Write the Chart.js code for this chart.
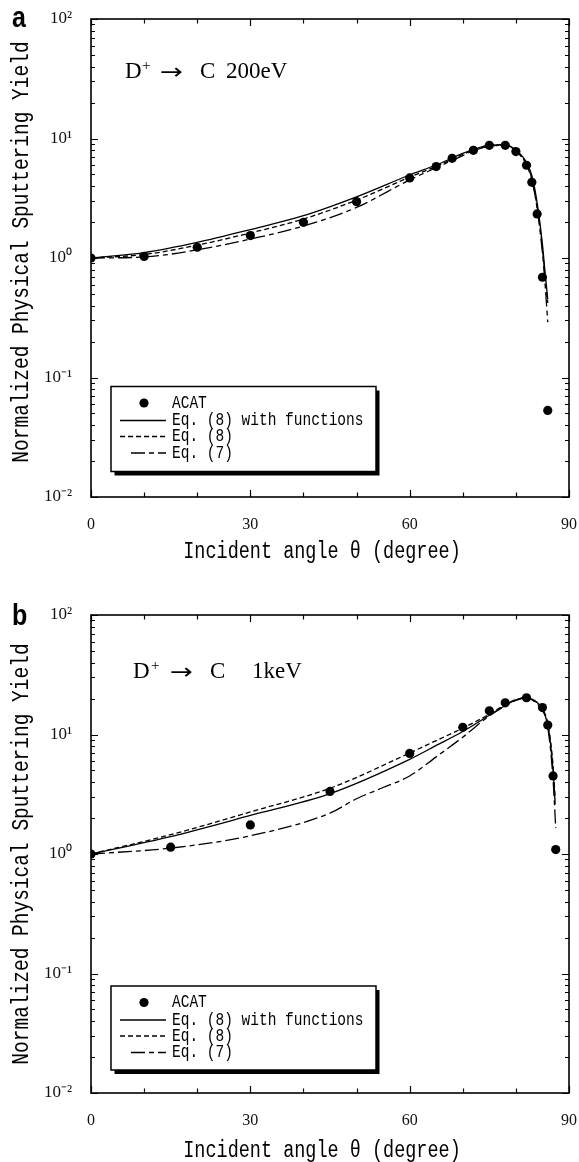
<!DOCTYPE html>
<html><head><meta charset="utf-8">
<script src="https://cdn.jsdelivr.net/npm/chart.js@4.4.0/dist/chart.umd.min.js"></script>
<style>
html,body{margin:0;padding:0;background:#fff;overflow:hidden;width:579px;height:1162px}
#wa{position:absolute;left:0;top:0;width:579px;height:596px}
#wb{position:absolute;left:0;top:596px;width:579px;height:566px}
canvas{display:block}
</style></head><body>
<div id="wa"><canvas id="ca" width="579" height="596"></canvas></div>
<div id="wb"><canvas id="cb" width="579" height="566"></canvas></div>
<script>
// ---- shared axis / legend text ----
const xTickValues = [0, 30, 60, 90];
const yTickValues = [0.01, 0.1, 1, 10, 100];
const yTickLabels = ['10\u207B\u00B2', '10\u207B\u00B9', '10\u2070', '10\u00B9', '10\u00B2'];
const legendLabels = ['ACAT', 'Eq. (8) with functions', 'Eq. (8)', 'Eq. (7)'];
const xAxisTitle = 'Incident angle \u03B8 (degree)';
const yAxisTitle = 'Normalized Physical Sputtering Yield';

// ---- panel a : D+ -> C 200 eV ----
const a_acatAngle = [0, 10, 20, 30, 40, 50, 60, 65, 68, 72, 75, 78, 80, 82, 83, 84, 85, 86];
const a_acatYield = [1, 1.03, 1.23, 1.54, 1.99, 2.96, 4.68, 5.82, 6.83, 7.96, 8.77, 8.77, 7.77, 5.97, 4.3, 2.34, 0.69, 0.053];
const a_lineAngle = [0, 10, 20, 30, 40, 50, 60, 65, 70, 72, 75, 78, 80, 82, 83, 84, 85, 85.5, 86];
const a_eq8fYield = [1, 1.11, 1.35, 1.73, 2.26, 3.25, 4.95, 6.0, 7.5, 8.1, 8.8, 8.9, 8.0, 6.3, 4.9, 2.9, 1.3, 0.75, 0.45];
const a_eq8Yield  = [1, 1.07, 1.28, 1.62, 2.12, 3.05, 4.75, 5.85, 7.35, 8.0, 8.7, 8.85, 7.9, 6.1, 4.6, 2.7, 1.2, 0.7, 0.42];
const a_eq7Yield  = [1, 1.02, 1.17, 1.44, 1.85, 2.65, 4.5, 5.7, 7.2, 7.9, 8.6, 8.8, 7.9, 6.0, 4.5, 2.6, 1.1, 0.6, 0.29];

// ---- panel b : D+ -> C 1 keV ----
const b_acatAngle = [0, 15, 30, 45, 60, 70, 75, 78, 82, 85, 86, 87, 87.5];
const b_acatYield = [1, 1.14, 1.75, 3.34, 6.95, 11.5, 15.8, 18.4, 20.3, 16.8, 12.0, 4.5, 1.09];
const b_lineAngle = [0, 15, 30, 45, 60, 65, 70, 75, 78, 80, 82, 84, 85, 86, 86.5, 87, 87.4];
const b_eq8fYield = [1, 1.4, 2.1, 3.2, 6.2, 8.1, 10.6, 14.5, 17.5, 19.5, 20.3, 18.5, 16.5, 12, 8.5, 5, 2.6];
const b_eq8Yield  = [1, 1.45, 2.25, 3.55, 7.0, 8.9, 11.3, 14.8, 17.8, 19.6, 20.3, 18.5, 16.5, 12.5, 9, 5.5, 2.9];
const b_eq7Angle  = [0, 15, 30, 45, 50, 55, 60, 65, 70, 75, 78, 80, 82, 84, 85, 86, 87, 87.5];
const b_eq7Yield  = [1, 1.12, 1.42, 2.2, 2.9, 3.6, 4.5, 6.5, 9.5, 14.3, 17.3, 19.3, 20.2, 18, 16, 11.5, 4.2, 1.65];

function zip(xs, ys) { return xs.map((v, i) => ({ x: v, y: ys[i] })); }

function sText(ctx, str, x, y, font, sy, align, baseline, sx) {
  ctx.save();
  ctx.font = font; ctx.textAlign = align || 'left'; ctx.textBaseline = baseline || 'alphabetic';
  ctx.fillStyle = '#000';
  ctx.translate(x, y); ctx.scale(sx || 1, sy); ctx.fillText(str, 0, 0);
  ctx.restore();
}

const decorPlugin = {
  id: 'decor',
  afterDatasetsDraw(chart, args, P) {
    const { ctx, chartArea: { left, right, top, bottom }, scales: { x, y } } = chart;
    ctx.save();
    ctx.strokeStyle = '#000'; ctx.lineWidth = 1.6;
    ctx.strokeRect(left, top, right - left, bottom - top);
    ctx.lineWidth = 1.2; ctx.beginPath();
    for (let v = 0; v <= 90; v += 10) {
      const px = Math.round(x.getPixelForValue(v)) + 0.5;
      const L = v % 30 === 0 ? 7 : 4.5;
      ctx.moveTo(px, bottom); ctx.lineTo(px, bottom - L);
      ctx.moveTo(px, top); ctx.lineTo(px, top + L);
    }
    for (let e = -2; e <= 2; e++) {
      for (let m = 1; m <= 9; m++) {
        if (e === 2 && m > 1) break;
        const py = Math.round(y.getPixelForValue(m * Math.pow(10, e))) + 0.5;
        const L = m === 1 ? 7 : 4;
        ctx.moveTo(left, py); ctx.lineTo(left + L, py);
        ctx.moveTo(right, py); ctx.lineTo(right - L, py);
      }
    }
    ctx.stroke();

    // legend with drop shadow
    const lg = P.legend;
    ctx.fillStyle = '#000'; ctx.fillRect(lg.x + 3.5, lg.y + 4, lg.w, lg.h);
    ctx.fillStyle = '#fff'; ctx.fillRect(lg.x, lg.y, lg.w, lg.h);
    ctx.lineWidth = 1.5; ctx.strokeRect(lg.x, lg.y, lg.w, lg.h);
    const rows = [16.5, 34, 50, 66.5];
    chart.data.datasets.forEach((ds, i) => {
      const ry = lg.y + rows[i];
      if (i === 0) {
        ctx.beginPath(); ctx.fillStyle = '#000';
        ctx.arc(lg.x + 33, ry, 4.6, 0, Math.PI * 2); ctx.fill();
      } else {
        ctx.beginPath(); ctx.strokeStyle = '#000'; ctx.lineWidth = ds.borderWidth;
        ctx.setLineDash(ds.borderDash || []);
        ctx.moveTo(lg.x + (i === 3 ? 20 : 9), ry); ctx.lineTo(lg.x + 55, ry); ctx.stroke();
        ctx.setLineDash([]);
      }
      sText(ctx, ds.label, lg.x + 61, ry, '14.5px "Liberation Mono"', 1.3, 'left', 'middle');
    });

    // inner title
    const t = P.title;
    const tf = '23px "Liberation Serif"';
    sText(ctx, 'D', t.xD, t.y, tf, 1.0);
    sText(ctx, '+', t.xP, t.y - 8, '15px "Liberation Serif"', 1.0);
    sText(ctx, '\u2192', t.xA, t.y + 1, '22px "DejaVu Sans"', 1.0, 'left', 'alphabetic', 1.25);
    sText(ctx, 'C', t.xC, t.y, tf, 1.0);
    sText(ctx, t.energy, t.xE, t.y, tf, 1.0);

    // axis titles
    ctx.save();
    ctx.fillStyle = '#000';
    ctx.translate(P.yTitle.x, P.yTitle.y); ctx.rotate(-Math.PI / 2); ctx.scale(1, 1.25);
    ctx.font = '19.5px "Liberation Mono"'; ctx.textAlign = 'center'; ctx.textBaseline = 'middle';
    ctx.fillText(yAxisTitle, 0, 0);
    ctx.restore();
    sText(ctx, xAxisTitle, P.xTitle.x, P.xTitle.y, '18.5px "Liberation Mono"', 1.32, 'center', 'alphabetic');

    // panel letter
    sText(ctx, P.letter, 12, P.letterY, 'bold 25px "Liberation Sans"', 1.2, 'left', 'alphabetic');
    ctx.restore();
  }
};

function makePanel(id, P) {
  const canvas = document.getElementById(id);
  const H = canvas.height;
  return new Chart(canvas, {
    type: 'scatter',
    data: {
      datasets: [
        { label: legendLabels[0], data: zip(P.acatX, P.acatY), showLine: false,
          pointRadius: 4.6, pointBackgroundColor: '#000', pointBorderColor: '#000', pointBorderWidth: 0 },
        { label: legendLabels[1], data: zip(P.lineX, P.eq8f), showLine: true, pointRadius: 0,
          borderColor: '#000', borderWidth: 1.3, cubicInterpolationMode: 'monotone', fill: false },
        { label: legendLabels[2], data: zip(P.lineX, P.eq8), showLine: true, pointRadius: 0,
          borderColor: '#000', borderWidth: 1.3, borderDash: [5, 3], cubicInterpolationMode: 'monotone', fill: false },
        { label: legendLabels[3], data: zip(P.eq7X, P.eq7), showLine: true, pointRadius: 0,
          borderColor: '#000', borderWidth: 1.3, borderDash: [14, 4, 5, 4], cubicInterpolationMode: 'monotone', fill: false }
      ]
    },
    options: {
      responsive: false, animation: false, devicePixelRatio: 1,
      layout: { padding: { left: 0, top: 19, right: 10, bottom: 0 } },
      scales: {
        x: {
          type: 'linear', min: 0, max: 90,
          afterBuildTicks: s => { s.ticks = xTickValues.map(v => ({ value: v })); },
          afterFit: s => { s.height = H - 497; s.paddingLeft = 0; s.paddingRight = 0; },
          ticks: { font: { family: 'Liberation Serif', size: 16 }, color: '#111', padding: 10, maxRotation: 0, autoSkip: false },
          grid: { display: false }, border: { display: false }
        },
        y: {
          type: 'logarithmic', min: 0.01, max: 100,
          afterBuildTicks: s => { s.ticks = yTickValues.map(v => ({ value: v })); },
          afterFit: s => { s.width = 91; s.paddingTop = 0; s.paddingBottom = 0; },
          ticks: { font: { family: 'Liberation Serif', size: 17 }, color: '#111', padding: 11, autoSkip: false,
                   callback: (v, i) => yTickLabels[i] },
          grid: { display: false }, border: { display: false }
        }
      },
      plugins: { legend: { display: false }, tooltip: { enabled: false }, decor: P }
    },
    plugins: [decorPlugin]
  });
}

makePanel('ca', {
  acatX: a_acatAngle, acatY: a_acatYield, lineX: a_lineAngle,
  eq8f: a_eq8fYield, eq8: a_eq8Yield, eq7X: a_lineAngle, eq7: a_eq7Yield,
  legend: { x: 111, y: 386.5, w: 265, h: 85 },
  title: { y: 78, xD: 125, xP: 142, xA: 160, xC: 200, xE: 226, energy: '200eV' },
  yTitle: { x: 22, y: 252 }, xTitle: { x: 322, y: 558 },
  letter: 'a', letterY: 27
});
makePanel('cb', {
  acatX: b_acatAngle, acatY: b_acatYield, lineX: b_lineAngle,
  eq8f: b_eq8fYield, eq8: b_eq8Yield, eq7X: b_eq7Angle, eq7: b_eq7Yield,
  legend: { x: 111, y: 390, w: 265, h: 84 },
  title: { y: 82, xD: 133, xP: 151, xA: 170, xC: 210, xE: 252, energy: '1keV' },
  yTitle: { x: 22, y: 258 }, xTitle: { x: 322, y: 561 },
  letter: 'b', letterY: 29
});
</script>
</body></html>
